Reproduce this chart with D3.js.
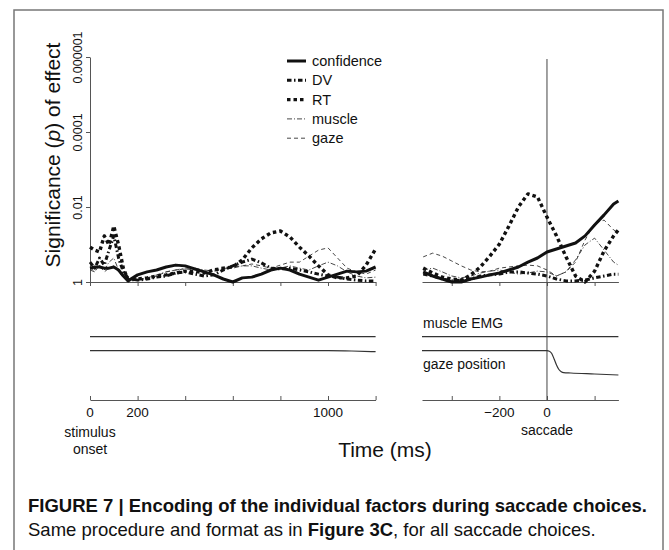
<!DOCTYPE html>
<html>
<head>
<meta charset="utf-8">
<script src="https://cdn.jsdelivr.net/npm/d3@7"></script>
<style>
body { margin: 0; background: #fff; }
svg text { font-family: "Liberation Sans", Arial, Helvetica, sans-serif; fill: #111; }
</style>
</head>
<body>
<svg id="chart" width="669" height="550"></svg>
<script>
// values are significance in -log10(p) units
var timesLeft = [0, 20, 40, 60, 80, 100, 120, 140, 160, 200, 240, 280, 320, 360, 400, 440, 480, 520,
	560, 600, 640, 680, 720, 760, 800, 840, 880, 920, 960, 1000, 1040, 1080, 1120, 1160, 1200];
var confLeft = [0.37, 0.40, 0.40, 0.37, 0.37, 0.40, 0.32, 0.16, 0.03, 0.19, 0.27, 0.32, 0.40, 0.45, 0.43, 0.35, 0.27, 0.19,
	0.08, 0.00, 0.11, 0.13, 0.21, 0.32, 0.37, 0.32, 0.21, 0.13, 0.05, 0.13, 0.21, 0.29, 0.27, 0.29, 0.40];
var dvLeft = [0.53, 0.37, 0.64, 0.45, 0.85, 1.23, 0.64, 0.27, 0.11, 0.05, 0.08, 0.13, 0.16, 0.24, 0.27, 0.21, 0.16, 0.19,
	0.32, 0.43, 0.53, 0.61, 0.51, 0.37, 0.35, 0.37, 0.32, 0.27, 0.21, 0.16, 0.13, 0.08, 0.05, 0.03, 0.03];
var rtLeft = [0.93, 0.85, 0.80, 1.23, 0.99, 1.49, 0.99, 0.37, 0.05, 0.08, 0.11, 0.16, 0.19, 0.24, 0.29, 0.29, 0.24, 0.32,
	0.37, 0.40, 0.59, 0.91, 1.15, 1.31, 1.36, 1.20, 0.93, 0.69, 0.43, 0.19, 0.11, 0.11, 0.16, 0.45, 0.88];
var muscleLeft = [0.32, 0.27, 0.45, 0.32, 0.53, 0.64, 0.32, 0.16, 0.08, 0.05, 0.11, 0.19, 0.27, 0.32, 0.37, 0.37, 0.32, 0.29,
	0.35, 0.37, 0.43, 0.43, 0.37, 0.32, 0.37, 0.43, 0.37, 0.32, 0.43, 0.53, 0.43, 0.27, 0.16, 0.11, 0.13];
var gazeLeft = [0.37, 0.29, 0.43, 0.27, 0.37, 0.43, 0.27, 0.13, 0.08, 0.05, 0.08, 0.16, 0.27, 0.32, 0.35, 0.32, 0.29, 0.32,
	0.37, 0.40, 0.43, 0.48, 0.43, 0.37, 0.45, 0.53, 0.53, 0.69, 0.85, 0.91, 0.64, 0.37, 0.27, 0.21, 0.32];

var timesRight = [-520, -480, -440, -400, -360, -320, -280, -240, -200, -160, -120, -80, -40,
	0, 40, 80, 120, 160, 200, 240, 280, 300];
var confRight = [0.27, 0.16, 0.08, 0.00, 0.00, 0.08, 0.13, 0.19, 0.24, 0.32, 0.40, 0.53, 0.64,
	0.80, 0.88, 0.96, 1.04, 1.23, 1.52, 1.79, 2.08, 2.16];
var dvRight = [0.21, 0.16, 0.08, 0.03, 0.05, 0.08, 0.16, 0.19, 0.21, 0.27, 0.27, 0.24, 0.21,
	0.16, 0.08, 0.03, 0.03, 0.05, 0.11, 0.16, 0.21, 0.21];
var rtRight = [0.37, 0.24, 0.13, 0.08, 0.05, 0.19, 0.40, 0.69, 1.01, 1.49, 2.00, 2.35, 2.27,
	1.73, 1.23, 0.67, 0.16, 0.00, 0.29, 0.83, 1.23, 1.39];
var muscleRight = [0.32, 0.37, 0.27, 0.16, 0.11, 0.16, 0.24, 0.29, 0.32, 0.27, 0.21, 0.24, 0.29,
	0.27, 0.16, 0.27, 0.59, 0.99, 1.17, 0.85, 0.53, 0.45];
var gazeRight = [0.67, 0.77, 0.69, 0.56, 0.43, 0.32, 0.27, 0.29, 0.37, 0.40, 0.43, 0.45, 0.43,
	0.32, 0.16, 0.27, 0.53, 1.12, 1.57, 1.65, 1.39, 1.31];

// raw traces in the lower panels (arbitrary units)
var emgTimesLeft = [0, 1200];
var emgLeft = [63.3, 63.3];
var emgTimesRight = [-525, 300];
var emgRight = [63.3, 63.3];
var gazeTimesLeft = [0, 1000, 1100, 1200];
var gazePosLeft = [49.3, 49.3, 49.0, 48.3];
var gazeTimesRight = [-525, 0, 10, 20, 30, 40, 50, 60, 70, 100, 200, 300];
var gazePosRight = [49.3, 49.3, 48.8, 46.5, 41, 35, 30.5, 28.3, 27.4, 27, 26, 25];

var factors = ['confidence', 'DV', 'RT', 'muscle', 'gaze'];
var pTicks = [1, 0.01, 0.0001, 0.000001];
var pTickLabels = ['1', '0.01', '0.0001', '0.000001'];
var leftTicks = [0, 200, 400, 600, 800, 1000, 1200];
var leftTickLabels = ['0', '200', '', '', '', '1000', ''];
var rightTicks = [-400, -200, 0, 200];
var rightTickLabels = ['', '\u2212200', '0', ''];

var styles = {
	confidence: {w: 3, dash: null, color: '#111'},
	DV: {w: 3, dash: '4.5,2.5,1.5,2.5', color: '#111'},
	RT: {w: 3.4, dash: '3.5,3', color: '#111'},
	muscle: {w: 0.9, dash: '5,2,1,2', color: '#333'},
	gaze: {w: 0.9, dash: '4,3', color: '#333'}
};

var svg = d3.select('#chart');

svg.append('rect')
	.attr('x', 14).attr('y', 10)
	.attr('width', 649).attr('height', 560)
	.attr('fill', 'none')
	.attr('stroke', '#777')
	.attr('stroke-width', 1.5);

var xLeft = d3.scaleLinear().domain([0, 1200]).range([90, 375.6]);
var xRight = d3.scaleLinear().domain([-525, 300]).range([422, 618.4]);
var yP = d3.scaleLog().domain([1, 1e-6]).range([282, 57]);
var yTrace = d3.scaleLinear().domain([0, 70]).range([400, 330]);

function styleAxis(g) {
	g.selectAll('path, line').attr('stroke', '#555').attr('stroke-width', 1);
}

// y axis, rotated tick labels
var yAxis = svg.append('g')
	.attr('transform', 'translate(90,0)')
	.call(d3.axisLeft(yP).tickValues(pTicks).tickSize(4).tickSizeOuter(0)
		.tickFormat(function(d, i) { return pTickLabels[i]; }))
	.call(styleAxis);
yAxis.selectAll('text')
	.attr('transform', 'rotate(-90)')
	.attr('x', 0).attr('y', -8).attr('dy', 0)
	.attr('text-anchor', 'middle')
	.style('font-size', '12.5px')
	.style('font-family', '"Liberation Sans", Arial, sans-serif')
	.attr('fill', '#111');

svg.append('text')
	.attr('transform', 'translate(60,155) rotate(-90)')
	.attr('text-anchor', 'middle')
	.style('font-size', '21px')
	.call(function(t) {
		t.append('tspan').text('Significance (');
		t.append('tspan').style('font-style', 'italic').text('p');
		t.append('tspan').text(') of effect');
	});

// top panel x axes
svg.append('g').attr('transform', 'translate(0,282)')
	.call(d3.axisBottom(xLeft).tickValues(leftTicks).tickSize(4).tickSizeOuter(0).tickFormat(''))
	.call(styleAxis);
svg.append('g').attr('transform', 'translate(0,282)')
	.call(d3.axisBottom(xRight).tickValues(rightTicks).tickSize(4).tickSizeOuter(0).tickFormat(''))
	.call(styleAxis);

// bottom panel x axes
svg.append('g').attr('transform', 'translate(0,400)')
	.call(d3.axisTop(xLeft).tickValues(leftTicks).tickSize(4).tickSizeOuter(0).tickFormat(''))
	.call(styleAxis);
svg.append('g').attr('transform', 'translate(0,400)')
	.call(d3.axisTop(xRight).tickValues(rightTicks).tickSize(4).tickSizeOuter(0).tickFormat(''))
	.call(styleAxis);

svg.append('g').selectAll('text')
	.data(leftTicks)
	.join('text')
	.attr('x', function(d) { return xLeft(d); })
	.attr('y', 417)
	.attr('text-anchor', 'middle')
	.style('font-size', '13.5px')
	.text(function(d, i) { return leftTickLabels[i]; });
svg.append('g').selectAll('text')
	.data(rightTicks)
	.join('text')
	.attr('x', function(d) { return xRight(d); })
	.attr('y', 417)
	.attr('text-anchor', 'middle')
	.style('font-size', '13.5px')
	.text(function(d, i) { return rightTickLabels[i]; });

svg.append('text').attr('x', xLeft(0)).attr('y', 437).attr('text-anchor', 'middle')
	.style('font-size', '14px').text('stimulus');
svg.append('text').attr('x', xLeft(0)).attr('y', 454).attr('text-anchor', 'middle')
	.style('font-size', '14px').text('onset');
svg.append('text').attr('x', xRight(0)).attr('y', 435).attr('text-anchor', 'middle')
	.style('font-size', '14px').text('saccade');
svg.append('text').attr('x', 385).attr('y', 457).attr('text-anchor', 'middle')
	.style('font-size', '21px').text('Time (ms)');

// saccade onset marker
svg.append('line')
	.attr('x1', xRight(0)).attr('x2', xRight(0))
	.attr('y1', 59).attr('y2', 400)
	.attr('stroke', '#444').attr('stroke-width', 1);

// significance curves
function series(times, vals) {
	return times.map(function(t, i) { return {t: t, p: Math.pow(10, -vals[i])}; });
}

var panels = [
	{x: xLeft, times: timesLeft, data: {confidence: confLeft, DV: dvLeft, RT: rtLeft, muscle: muscleLeft, gaze: gazeLeft}},
	{x: xRight, times: timesRight, data: {confidence: confRight, DV: dvRight, RT: rtRight, muscle: muscleRight, gaze: gazeRight}}
];

var drawOrder = ['gaze', 'muscle', 'DV', 'RT', 'confidence'];

panels.forEach(function(panel) {
	var line = d3.line()
		.x(function(d) { return panel.x(d.t); })
		.y(function(d) { return yP(d.p); });
	drawOrder.forEach(function(name) {
		var s = styles[name];
		svg.append('path')
			.datum(series(panel.times, panel.data[name]))
			.attr('d', line)
			.attr('fill', 'none')
			.attr('stroke', s.color)
			.attr('stroke-width', s.w)
			.attr('stroke-dasharray', s.dash)
			.attr('stroke-linejoin', 'round');
	});
});

// raw traces
function trace(x, times, vals) {
	var line = d3.line()
		.x(function(d, i) { return x(times[i]); })
		.y(function(d) { return yTrace(d); })
		.curve(d3.curveMonotoneX);
	svg.append('path')
		.attr('d', line(vals))
		.attr('fill', 'none')
		.attr('stroke', '#333')
		.attr('stroke-width', 1.2);
}
trace(xLeft, emgTimesLeft, emgLeft);
trace(xRight, emgTimesRight, emgRight);
trace(xLeft, gazeTimesLeft, gazePosLeft);
trace(xRight, gazeTimesRight, gazePosRight);

svg.append('text').attr('x', 423).attr('y', 328).style('font-size', '14px').text('muscle EMG');
svg.append('text').attr('x', 423).attr('y', 369).style('font-size', '14px').text('gaze position');

// legend
var legend = svg.append('g');
factors.forEach(function(name, i) {
	var s = styles[name];
	var cy = 61 + i * 19.3;
	legend.append('line')
		.attr('x1', 287).attr('x2', 306)
		.attr('y1', cy).attr('y2', cy)
		.attr('stroke', s.color)
		.attr('stroke-width', s.w)
		.attr('stroke-dasharray', s.dash);
	legend.append('text')
		.attr('x', 312).attr('y', cy + 5)
		.style('font-size', '14.5px')
		.text(name);
});

// caption
svg.append('text')
	.attr('x', 28).attr('y', 512)
	.style('font-size', '18.5px')
	.style('font-weight', 'bold')
	.text('FIGURE 7 | Encoding of the individual factors during saccade choices.');
svg.append('text')
	.attr('x', 28).attr('y', 536)
	.style('font-size', '18.5px')
	.call(function(t) {
		t.append('tspan').text('Same procedure and format as in ');
		t.append('tspan').style('font-weight', 'bold').text('Figure 3C');
		t.append('tspan').text(', for all saccade choices.');
	});
</script>
</body>
</html>
